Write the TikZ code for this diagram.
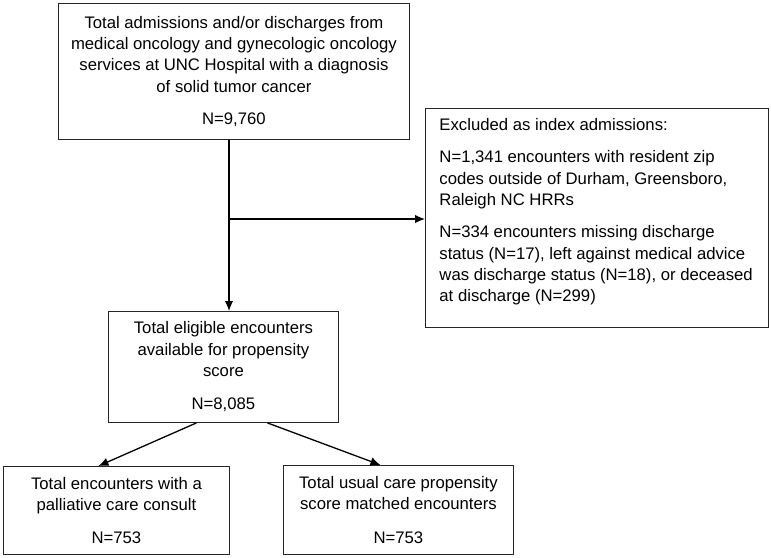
\documentclass[tikz,border=0pt]{standalone}
\usepackage{fontspec}
\setmainfont{Liberation Sans}
\usetikzlibrary{arrows.meta}
\tikzset{flowbox/.style={
        draw=black!85, line width=0.9pt,
        anchor=north west, align=center, inner sep=0pt,
        font=\fontsize{16.7}{21.3}\selectfont
    },
    flowarrow/.style={-{Latex[length=10pt,width=8.5pt]}, line width=1.3pt}
}

\begin{document}
\begin{tikzpicture}[x=1pt,y=1pt]
           \useasboundingbox (0,0) rectangle (771,-557);
           \node[flowbox,minimum width=351pt,minimum height=136pt] (total) at (58,-3) {Total admissions and/or discharges from\\ medical oncology and gynecologic oncology\\ services at UNC Hospital with a diagnosis\\ of solid tumor cancer\\[11pt] N=9,760};
           \node[flowbox,minimum width=343pt,minimum height=219pt] (excl) at (425,-108) {\parbox[t][199pt][t]{343pt}{\raggedright\leftskip=14pt Excluded as index admissions:\\[11pt] N=1,341 encounters with resident zip\\ codes outside of Durham, Greensboro,\\ Raleigh NC HRRs\\[11pt] N=334 encounters missing discharge\\ status (N=17), left against medical advice\\ was discharge status (N=18), or deceased\\ at discharge (N=299)}};
           \node[flowbox,minimum width=230pt,minimum height=111pt] (eligible) at (108,-311) {Total eligible encounters\\ available for propensity\\ score\\[12pt] N=8,085};
           \node[flowbox,minimum width=226pt,minimum height=88pt] (palliative) at (3,-466) {Total encounters with a\\ palliative care consult\\[12pt] N=753};
           \node[flowbox,minimum width=230pt,minimum height=89pt] (usual) at (283,-465) {Total usual care propensity\\ score matched encounters\\[12pt] N=753};
           %\draw[gray] (0,0) rectangle (771,-557);
           \coordinate (split) at (229,-219);
           \draw[flowarrow] (total.south -| split) -- (eligible.north -| split);
           \draw[flowarrow] (split) -- (excl.west |- split);
           \draw[flowarrow] ([xshift=-27pt]eligible.south) -- ([xshift=-18pt]palliative.north);
           \draw[flowarrow] ([xshift=44pt]eligible.south) -- ([xshift=-18pt]usual.north);
         \end{tikzpicture}
\end{document}
